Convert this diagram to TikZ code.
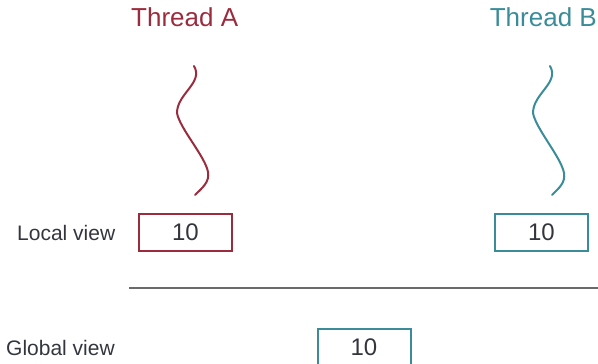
\documentclass[tikz,border=0pt]{standalone}
\usepackage{fontspec}
\setmainfont{Liberation Sans}
\definecolor{thra}{HTML}{9B2C3E}
\definecolor{thrb}{HTML}{3A8C98}
\definecolor{txt}{HTML}{33363D}
\definecolor{rulec}{HTML}{6A6A6A}
\begin{document}
\begin{tikzpicture}[x=1pt,y=1pt,
  lbl/.style={font=\fontsize{21}{24}\selectfont, text=txt, anchor=base west, inner sep=0},
  title/.style={font=\fontsize{26}{30}\selectfont, anchor=base, inner sep=0},
  valbox/.style={draw, line width=2pt, minimum width=93pt, minimum height=37pt, inner sep=0,
     font=\fontsize{24}{28}\selectfont, text=txt, text height=17pt, text depth=0pt},
  squig/.style={line width=2pt, line cap=round}]
\useasboundingbox (0,0) rectangle (598,-364);
\clip (0,0) rectangle (598,-364);
\node[title, text=thra, anchor=base west] (ta) at (131,-27) {Thread A};
\node[title, text=thrb, anchor=base east] (tb) at (597,-27) {Thread B};
\draw[squig, thra] (194,-66) to[out=-60,in=90] (177,-113) to[out=-80,in=100,looseness=0.6] (208,-172) to[out=-80,in=45] (195,-195);
\draw[squig, thrb] (550,-66) to[out=-60,in=90] (533,-113) to[out=-80,in=100,looseness=0.6] (564,-173) to[out=-80,in=45] (552,-195);
\node[lbl] (lv) at (17,-240) {Local view};
\node[valbox, draw=thra] (la) at (185.5,-232) {10};
\node[valbox, draw=thrb] (lb) at (541.5,-232) {10};
\coordinate (rl) at (129,-288);
\coordinate (rr) at (598,-288);
\draw[rulec, line width=1.3pt] (rl) -- (rr);
\node[lbl] (gv) at (6,-355) {Global view};
\node[valbox, draw=thrb] (g) at (364,-347) {10};
\end{tikzpicture}
\end{document}
